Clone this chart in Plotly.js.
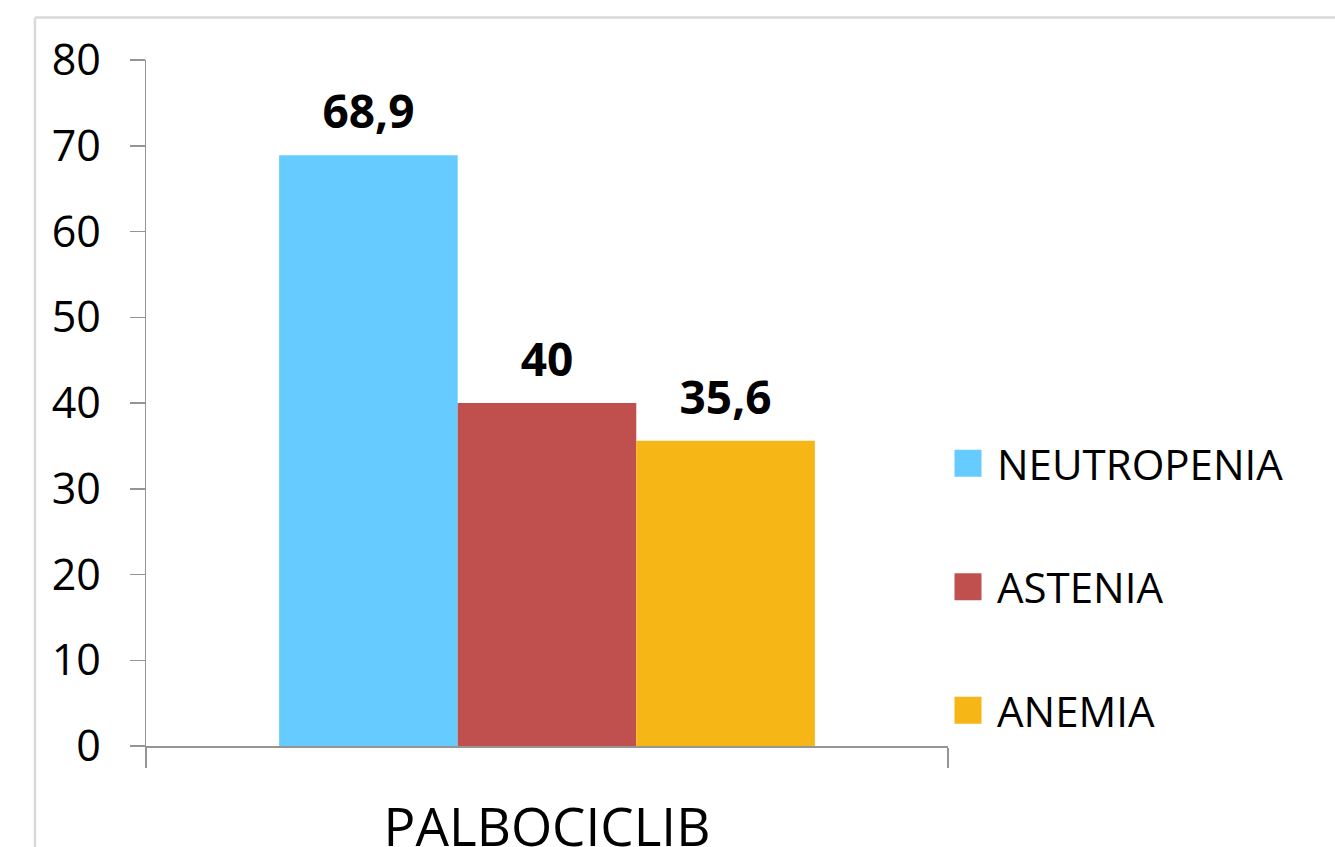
<!DOCTYPE html>
<html>
<head>
<meta charset="utf-8">
<script src="https://cdn.plot.ly/plotly-3.0.1.min.js"></script>
<style>
  html, body { margin: 0; padding: 0; background: #ffffff; }
  #chart { width: 1335px; height: 847px; }
  .legend .legendpoints path { transform: translate(20px, 0px) scale(2.25); }
</style>
</head>
<body>
<div id="chart"></div>
<script>
// ---- data ----
var categories = ['PALBOCICLIB'];
var seriesNames = ['NEUTROPENIA', 'ASTENIA', 'ANEMIA'];
var neutropenia = [68.9];
var astenia = [40];
var anemia = [35.6];
var seriesColors = ['#66CCFF', '#C0504D', '#F5B616'];
var yTickValues = [0, 10, 20, 30, 40, 50, 60, 70, 80];

var seriesValues = [neutropenia, astenia, anemia];
var FONT = 'Open Sans, Liberation Sans, sans-serif';

function fmt(v) { return String(v).replace('.', ','); }

var traces = seriesValues.map(function (vals, i) {
  return {
    type: 'bar',
    name: seriesNames[i],
    x: categories,
    y: vals,
    text: vals.map(fmt),
    textposition: 'outside',
    cliponaxis: false,
    textfont: { family: FONT, size: 46, color: '#000000', weight: 'bold' },
    marker: { color: seriesColors[i], line: { width: 0 } },
    legendgroup: 'g' + i,
    hoverinfo: 'none'
  };
});

var axisColor = '#959595';

var layout = {
  width: 1335,
  height: 847,
  margin: { l: 146, r: 387, t: 60, b: 101, pad: 0 },
  paper_bgcolor: '#ffffff',
  plot_bgcolor: '#ffffff',
  barmode: 'group',
  bargap: 0.332,
  bargroupgap: 0,
  font: { family: FONT, color: '#000000' },
  showlegend: true,
  legend: {
    x: 1.0, xanchor: 'left',
    y: 0.232, yanchor: 'middle',
    traceorder: 'grouped',
    tracegroupgap: 66,
    itemwidth: 39,
    font: { family: FONT, size: 42, color: '#000000' },
    bgcolor: 'rgba(0,0,0,0)',
    borderwidth: 0
  },
  xaxis: {
    type: 'category',
    categoryorder: 'array',
    categoryarray: categories,
    range: [-0.5, 0.5],
    showline: true,
    linecolor: axisColor,
    linewidth: 1.5,
    ticks: 'outside',
    tickson: 'boundaries',
    ticklen: 20,
    tickwidth: 1.5,
    tickcolor: axisColor,
    ticklabelstandoff: 35,
    tickfont: { family: FONT, size: 53, color: '#000000' },
    showgrid: false,
    zeroline: false,
    fixedrange: true
  },
  yaxis: {
    range: [0, 80],
    tickmode: 'array',
    tickvals: yTickValues,
    ticktext: yTickValues.map(String),
    showline: true,
    linecolor: axisColor,
    linewidth: 1.5,
    ticks: 'outside',
    ticklen: 15,
    tickwidth: 1.5,
    tickcolor: axisColor,
    ticklabelstandoff: 20,
    tickfont: { family: FONT, size: 43, color: '#000000' },
    showgrid: false,
    zeroline: false,
    fixedrange: true
  },
  shapes: [
    { type: 'line', xref: 'paper', yref: 'paper',
      x0: (35 - 146) / 802, x1: (1345 - 146) / 802,
      y0: (746 - 17.5) / 686, y1: (746 - 17.5) / 686,
      line: { color: '#d9d9d9', width: 2.5 } },
    { type: 'line', xref: 'paper', yref: 'paper',
      x0: (35 - 146) / 802, x1: (35 - 146) / 802,
      y0: (746 - 17.5) / 686, y1: (746 - 860) / 686,
      line: { color: '#d9d9d9', width: 2.5 } }
  ]
};

Plotly.newPlot('chart', traces, layout, { displayModeBar: false, staticPlot: true }).then(function (gd) {
  // lift value labels a little further above the bars, as in the reference
  var texts = gd.querySelectorAll('text.bartext');
  texts.forEach(function (el) {
    var t = el.getAttribute('transform') || '';
    el.setAttribute('transform', 'translate(0,-11) ' + t);
  });
});
</script>
</body>
</html>
